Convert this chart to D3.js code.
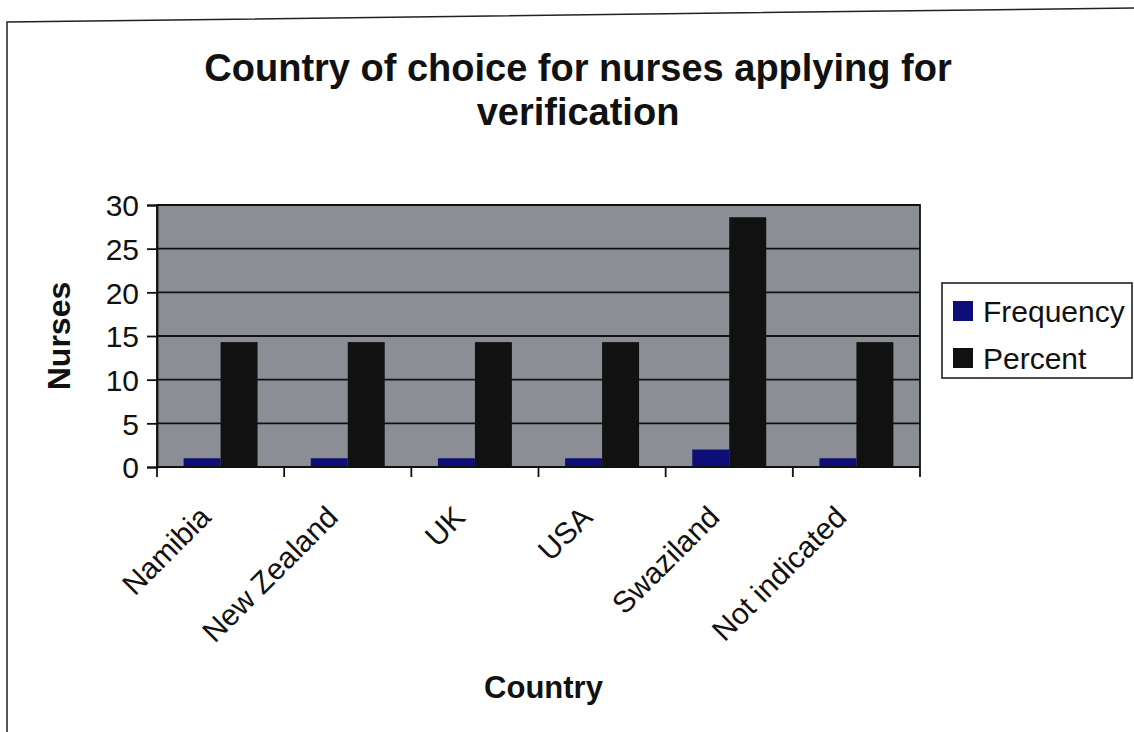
<!DOCTYPE html>
<html>
<head>
<meta charset="utf-8">
<script src="https://cdn.jsdelivr.net/npm/d3@7"></script>
<style>
  body { margin: 0; background: #fff; }
  text { font-family: "Liberation Sans", Arial, sans-serif; fill: #111; }
</style>
</head>
<body>
<div id="wrapper"></div>
<script>
const countries = ["Namibia", "New Zealand", "UK", "USA", "Swaziland", "Not indicated"]
const seriesNames = ["Frequency", "Percent"]
const frequency = [1, 1, 1, 1, 2, 1]
const percent = [14.3, 14.3, 14.3, 14.3, 28.6, 14.3]
const yTicks = [0, 5, 10, 15, 20, 25, 30]
const seriesColors = ["#0e0e78", "#111111"]

function drawChart() {
    const dataset = countries.map((c, i) => ({country: c, values: [frequency[i], percent[i]]}))

    // dimensions
    const dimensions = {
        width: 1134,
        height: 732,
        margin: {top: 205, right: 214, bottom: 265, left: 157},
    }
    dimensions.boundedWidth = dimensions.width - dimensions.margin.left - dimensions.margin.right
    dimensions.boundedHeight = dimensions.height - dimensions.margin.top - dimensions.margin.bottom

    const wrapper = d3.select("#wrapper")
        .append("svg")
        .attr("width", dimensions.width)
        .attr("height", dimensions.height)

    // page frame from the scan
    wrapper.append("path")
        .attr("d", "M7,732 L7,22 L1134,8")
        .attr("fill", "none")
        .attr("stroke", "#222")
        .attr("stroke-width", 1.5)

    // title
    const title = wrapper.append("text")
        .attr("x", 578)
        .attr("text-anchor", "middle")
        .style("font-size", "38px")
        .style("font-weight", "bold")
    title.append("tspan").attr("x", 578).attr("y", 81).text("Country of choice for nurses applying for")
    title.append("tspan").attr("x", 578).attr("y", 125).text("verification")

    const bounds = wrapper.append("g")
        .attr("transform", `translate(${dimensions.margin.left}, ${dimensions.margin.top})`)

    // scales
    const yScale = d3.scaleLinear()
        .domain([0, 30])
        .range([dimensions.boundedHeight, 0])

    const xScale = d3.scaleBand()
        .domain(countries)
        .range([0, dimensions.boundedWidth])

    const xInner = d3.scaleBand()
        .domain(seriesNames)
        .range([0, xScale.bandwidth()])
        .paddingOuter(0.72)

    // plot area
    bounds.append("rect")
        .attr("width", dimensions.boundedWidth)
        .attr("height", dimensions.boundedHeight)
        .attr("fill", "#8b8e94")

    bounds.append("g")
        .selectAll("line")
        .data(yTicks.slice(1))
        .join("line")
        .attr("x1", 0)
        .attr("x2", dimensions.boundedWidth)
        .attr("y1", d => yScale(d))
        .attr("y2", d => yScale(d))
        .attr("stroke", "#111")
        .attr("stroke-width", 1.8)

    // bars
    const groups = bounds.append("g")
        .selectAll("g")
        .data(dataset)
        .join("g")
        .attr("transform", d => `translate(${xScale(d.country)}, 0)`)

    groups.selectAll("rect")
        .data(d => d.values.map((v, i) => ({name: seriesNames[i], value: v})))
        .join("rect")
        .attr("x", d => xInner(d.name))
        .attr("width", xInner.bandwidth())
        .attr("y", d => yScale(d.value))
        .attr("height", d => dimensions.boundedHeight - yScale(d.value))
        .attr("fill", (d, i) => seriesColors[i])

    bounds.append("rect")
        .attr("width", dimensions.boundedWidth)
        .attr("height", dimensions.boundedHeight)
        .attr("fill", "none")
        .attr("stroke", "#111")
        .attr("stroke-width", 1.8)

    // axes
    const yAxisGenerator = d3.axisLeft()
        .scale(yScale)
        .tickValues(yTicks)
        .tickSize(10)
        .tickPadding(8)

    const yAxis = bounds.append("g")
        .call(yAxisGenerator)
    yAxis.select(".domain").attr("stroke", "#111").attr("stroke-width", 1.8)
    yAxis.selectAll(".tick line").attr("stroke", "#111").attr("stroke-width", 1.8)
    yAxis.selectAll(".tick text")
        .style("font-size", "30px")
        .attr("fill", "#111")
        .attr("dy", "0.36em")

    const xAxis = bounds.append("g")
        .attr("transform", `translate(0, ${dimensions.boundedHeight})`)
    xAxis.append("line")
        .attr("x1", 0)
        .attr("x2", dimensions.boundedWidth)
        .attr("stroke", "#111")
        .attr("stroke-width", 1.8)
    xAxis.selectAll(".xtick")
        .data(d3.range(countries.length + 1))
        .join("line")
        .attr("class", "xtick")
        .attr("x1", i => i * xScale.step())
        .attr("x2", i => i * xScale.step())
        .attr("y1", 0)
        .attr("y2", 10)
        .attr("stroke", "#111")
        .attr("stroke-width", 1.8)

    xAxis.selectAll(".xlabel")
        .data(countries)
        .join("text")
        .attr("class", "xlabel")
        .attr("text-anchor", "end")
        .style("font-size", "30px")
        .attr("transform", d => `translate(${xScale(d) + xScale.bandwidth() / 2 - 8}, 52) rotate(-45)`)
        .text(d => d)

    // axis titles
    wrapper.append("text")
        .attr("transform", `translate(70, ${dimensions.margin.top + dimensions.boundedHeight / 2}) rotate(-90)`)
        .attr("text-anchor", "middle")
        .style("font-size", "32px")
        .style("font-weight", "bold")
        .text("Nurses")

    wrapper.append("text")
        .attr("x", dimensions.margin.left + dimensions.boundedWidth / 2 + 5)
        .attr("y", 698)
        .attr("text-anchor", "middle")
        .style("font-size", "31px")
        .style("font-weight", "bold")
        .text("Country")

    // legend
    const legend = wrapper.append("g")
        .attr("transform", "translate(942, 283)")
    legend.append("rect")
        .attr("width", 190)
        .attr("height", 95)
        .attr("fill", "#fff")
        .attr("stroke", "#222")
        .attr("stroke-width", 1.6)
    const items = legend.selectAll(".item")
        .data(seriesNames)
        .join("g")
        .attr("class", "item")
        .attr("transform", (d, i) => `translate(11, ${18 + i * 47})`)
    items.append("rect")
        .attr("width", 20)
        .attr("height", 20)
        .attr("fill", (d, i) => seriesColors[i])
    items.append("text")
        .attr("x", 30)
        .attr("y", 21)
        .style("font-size", "30px")
        .text(d => d)
}

drawChart()
</script>
</body>
</html>
